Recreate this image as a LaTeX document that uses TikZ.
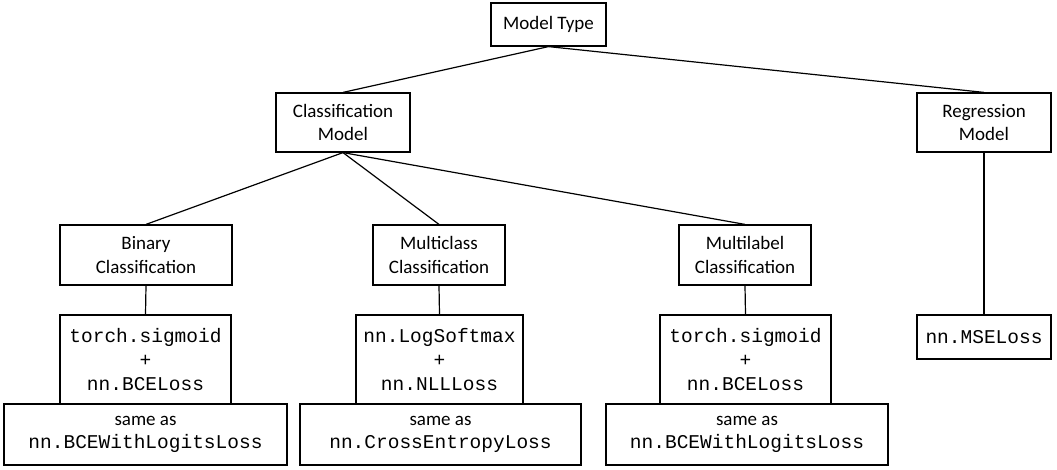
\documentclass[tikz,border=0pt]{standalone}
\usepackage{fontspec}
\setmainfont{Carlito}
\setmonofont{Liberation Mono}
\begin{document}
\begin{tikzpicture}[x=1pt,y=-1pt,
  box/.style={draw=black,line width=1.2pt,fill=white,inner sep=0pt,align=center,
    font=\fontsize{19}{23.5}\selectfont},
  code/.style={box,font=\fontsize{19.5}{24}\selectfont\ttfamily},
  link/.style={line width=1.2pt}]
\useasboundingbox (0,0) rectangle (1057,470);
\node[box,minimum width=115pt,minimum height=43pt] (mt) at (548.5,24.5) {Model Type};
\node[box,minimum width=134pt,minimum height=59pt] (cm) at (343,122.5) {Classification\\Model};
\node[box,minimum width=134pt,minimum height=59pt] (rm) at (984,122.5) {Regression\\Model};
\node[box,minimum width=172pt,minimum height=60pt] (bc) at (146,255) {Binary\\Classification};
\node[box,minimum width=132pt,minimum height=60pt] (mc) at (439,255) {Multiclass\\Classification};
\node[box,minimum width=132pt,minimum height=60pt] (ml) at (745,255) {Multilabel\\Classification};
\node[code,minimum width=171pt,minimum height=89pt] (bl) at (145.5,359.5) {torch.sigmoid\\+\\nn.BCELoss};
\node[code,minimum width=167pt,minimum height=89pt] (cl) at (439.5,359.5) {nn.LogSoftmax\\+\\nn.NLLLoss};
\node[code,minimum width=171pt,minimum height=89pt] (ll) at (745.5,359.5) {torch.sigmoid\\+\\nn.BCELoss};
\node[code,minimum width=134pt,minimum height=44pt] (mse) at (984,337) {nn.MSELoss};
\node[box,minimum width=283pt,minimum height=61pt] (bs) at (145.5,434.5) {same as\\{\ttfamily\fontsize{19.5}{24}\selectfont nn.BCEWithLogitsLoss}};
\node[box,minimum width=281pt,minimum height=61pt] (cs) at (440.5,434.5) {same as\\{\ttfamily\fontsize{19.5}{24}\selectfont nn.CrossEntropyLoss}};
\node[box,minimum width=282pt,minimum height=61pt] (ls) at (747,434.5) {same as\\{\ttfamily\fontsize{19.5}{24}\selectfont nn.BCEWithLogitsLoss}};
\draw[link] (mt.south) -- (cm.north);
\draw[link] (mt.south) -- (rm.north);
\draw[link] (cm.south) -- (bc.north);
\draw[link] (cm.south) -- (mc.north);
\draw[link] (cm.south) -- (ml.north);
\draw[link] (bc.south) -- (bl.north);
\draw[link] (mc.south) -- (cl.north);
\draw[link] (ml.south) -- (ll.north);
\draw[link] (rm.south) -- (mse.north);
\end{tikzpicture}
\end{document}
